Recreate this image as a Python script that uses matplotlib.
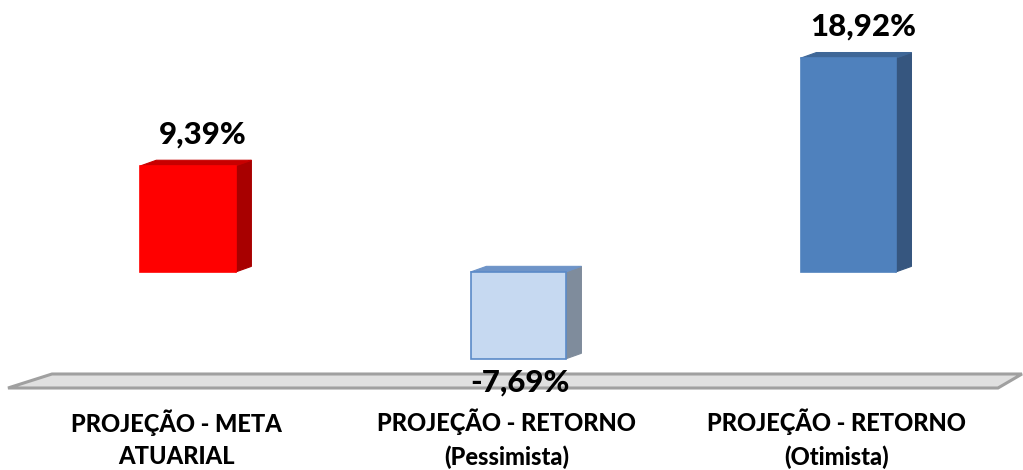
import matplotlib
matplotlib.use('Agg')
import matplotlib.pyplot as plt
from matplotlib.patches import Polygon

# dados do grafico
categorias = ['PROJEÇÃO - META\nATUARIAL', 'PROJEÇÃO - RETORNO\n(Pessimista)', 'PROJEÇÃO - RETORNO\n(Otimista)']
valores = [9.39, -7.69, 18.92]
rotulos = ['9,39%', '-7,69%', '18,92%']

cor_frente = ['#FF0000', '#C6D9F1', '#4F81BD']
cor_lado = ['#A80000', '#7F8C9C', '#36567F']
cor_topo = ['#C80000', '#6E94C8', '#3F6797']
cor_borda = ['#FF0000', '#5B8AC8', '#4F81BD']

plt.rcParams['font.family'] = ['Lato', 'DejaVu Sans']

fig = plt.figure(figsize=(10.23, 4.70), dpi=100)
ax = fig.add_axes([0, 0, 1, 1])
ax.set_xlim(-0.5697, 2.530)
ax.set_ylim(-17.52, 24.07)
ax.axis('off')

# piso (parallelogramo cinza)
piso = Polygon([(8/1023, 1-388/470), (998/1023, 1-388/470), (1022/1023, 1-374/470), (52/1023, 1-374/470)],
               closed=True, transform=ax.transAxes, facecolor='#E0E0E0', edgecolor='#A0A0A0', lw=2.2, zorder=1)
ax.add_patch(piso)

larg = 0.288
dx = 0.048
dy = 0.5
xs = list(range(len(valores)))
bars = ax.bar(xs, valores, width=larg, color=cor_frente, edgecolor=cor_borda, lw=1.2, zorder=3)

for i, v in enumerate(valores):
    x0 = i - larg/2
    x1 = i + larg/2
    top = max(v, 0)
    bot = min(v, 0)
    lado = Polygon([(x1, bot), (x1 + dx, bot + dy), (x1 + dx, top + dy), (x1, top)],
                   closed=True, facecolor=cor_lado[i], edgecolor=cor_lado[i], lw=0.8, zorder=2)
    topo = Polygon([(x0, top), (x0 + dx, top + dy), (x1 + dx, top + dy), (x1, top)],
                   closed=True, facecolor=cor_topo[i], edgecolor=cor_topo[i], lw=0.8, zorder=2)
    ax.add_patch(lado)
    ax.add_patch(topo)
    if v >= 0:
        ax.text(i + 0.045, v + 2.8, rotulos[i], ha='center', va='center', fontsize=22.5, fontweight='black', zorder=5)
    else:
        ax.text(i + 0.005, v - 2.1, rotulos[i], ha='center', va='center', fontsize=22.5, fontweight='black', zorder=5)
    ax.text(i - 0.035, -14.75, categorias[i], ha='center', va='center', fontsize=17, fontweight='black',
            multialignment='center', linespacing=1.5, zorder=5)

fig.savefig('out.png', dpi=100)
